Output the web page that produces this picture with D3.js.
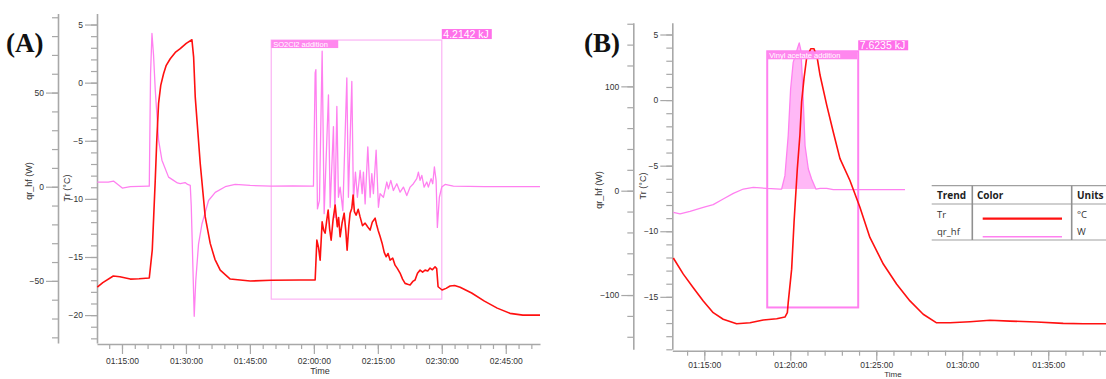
<!DOCTYPE html>
<html>
<head>
<meta charset="utf-8">
<script src="https://cdn.jsdelivr.net/npm/d3@7"></script>
<style>
  html, body { margin: 0; padding: 0; background: #fff; }
  svg { display: block; }
  text { font-family: "Liberation Sans", Arial, sans-serif; }
</style>
</head>
<body>
<svg id="chart" width="1106" height="379"></svg>
<script>
// ---------------- DATA (time in minutes after 00:00) ----------------
// Panel A
const trA = [[69.21,-17.59],[70.5,-17.2],[72.96,-16.64],[74.5,-16.7],[76.95,-16.9],[79,-16.87],[81.4,-16.81],[82.1,-14.4],[82.45,-11.4],[82.8,-8.39],[83.16,-4.96],[83.58,-1.78],[84.09,-0.23],[84.75,0.77],[85.38,1.49],[86.32,2.06],[87.49,2.6],[88.66,2.92],[90.07,3.38],[91.4,3.69],[91.8,2.2],[92.18,-1.24],[93.35,-6.96],[94.52,-11.55],[95.69,-13.83],[96.8,-15.2],[98.04,-16.13],[100.38,-16.9],[105.07,-17.07],[110,-17.0],[116.79,-16.98],[120.3,-16.98],[120.7,-13.55],[121.1,-14.2],[121.47,-15.27],[121.94,-11.98],[122.3,-12.7],[122.64,-12.95],[123.0,-11.9],[123.35,-10.97],[123.7,-12.6],[124.05,-13.55],[124.5,-11.8],[124.99,-10.54],[125.5,-12.4],[125.8,-11.6],[126.16,-13.26],[126.6,-12.1],[127.1,-11.23],[127.5,-12.8],[127.8,-14.41],[128.2,-12.3],[128.5,-11.23],[128.9,-10.8],[129.2,-9.68],[129.5,-11.1],[129.91,-11.4],[130.4,-10.9],[130.84,-11.55],[131.4,-12.3],[132.02,-12.09],[132.6,-12.4],[133.19,-12.69],[133.7,-12.0],[134.36,-11.66],[134.7,-12.2],[135.06,-12.69],[135.5,-13.2],[136.0,-13.81],[136.5,-14.6],[136.94,-14.98],[137.4,-14.7],[137.87,-15.27],[138.5,-15.1],[139.04,-15.7],[139.6,-16.0],[140.21,-16.38],[140.8,-16.9],[141.39,-17.27],[142.0,-17.35],[142.56,-17.41],[143.2,-17.1],[143.73,-16.98],[144.3,-16.4],[144.91,-16.13],[145.5,-16.3],[146.08,-16.13],[146.7,-16.2],[147.25,-15.95],[147.8,-16.1],[148.42,-15.84],[148.8,-16.0],[149.13,-17.56],[150.07,-17.84],[151.0,-17.7],[151.94,-17.5],[153.0,-17.45],[154.3,-17.6],[157,-18.1],[160,-18.8],[163,-19.4],[166,-19.85],[169,-20.0],[173.03,-20.0]];
const qrA = [[69.21,2.4],[71.79,2.4],[73.0,3.0],[75.07,-0.7],[76.95,0],[81.16,0.3],[81.4,0.3],[81.7,60],[82.03,81.4],[82.4,70],[82.8,51.5],[83.58,24.8],[84.37,14.1],[85.92,5.1],[87.0,3.5],[88.0,2.0],[88.66,1.6],[89.8,2.2],[90.4,1.2],[91.01,0.7],[91.24,-10],[91.94,-68.8],[92.3,-50],[92.95,-30.5],[93.75,-19.8],[94.52,-13.6],[95.3,-7.3],[96.87,-3],[99.21,0],[101.55,1.2],[105.07,0.7],[110,0.3],[115,0.5],[119.9,0.3],[120.3,60.4],[120.47,62.2],[120.84,-11.8],[121.31,-7.3],[121.94,72.0],[122.41,-14.3],[123.42,48.8],[123.82,-10.9],[124.59,31.9],[124.92,-16.3],[125.39,42.6],[125.76,-5.6],[126.16,-0.2],[126.79,-12.7],[127.73,57.8],[128.1,-5.6],[128.9,55.9],[129.28,-7.3],[129.75,7.8],[130.21,-5.6],[130.85,8.7],[131.32,-3.7],[131.62,7.8],[132.02,-9.1],[132.65,21.2],[133.19,-5.6],[133.59,7.0],[133.96,-3.7],[134.6,19.4],[135.14,-10.9],[135.53,-3.7],[136.31,-5.6],[137.1,2.5],[137.48,-1.1],[138.04,3.4],[138.65,-2.0],[139.45,1.6],[140.22,-2.9],[141.0,-0.2],[141.79,-4.7],[142.57,-0.2],[143.34,1.6],[144.13,4.3],[144.51,7.8],[144.91,3.4],[145.31,6.0],[145.85,-0.2],[146.48,2.5],[146.85,-0.2],[147.49,4.3],[147.88,1.6],[148.26,10.5],[148.66,3.4],[148.96,-21.6],[149.43,-5.6],[149.99,-0.2],[150.77,1.2],[152.71,0.3],[160,0.0],[173.03,0.0]];
// Panel B
const trB = [[73.2,-12.04],[73.78,-13.27],[74.36,-14.3],[74.94,-15.31],[75.52,-16.21],[76.1,-16.71],[76.88,-17.05],[77.66,-16.98],[78.43,-16.77],[79.21,-16.67],[79.69,-16.54],[79.83,-16.2],[79.88,-15.44],[80.08,-12.89],[80.22,-9.32],[80.41,-5.23],[80.56,-2.68],[80.66,-0.13],[80.8,1.66],[80.95,3.19],[81.19,3.91],[81.38,3.91],[81.57,3.19],[81.73,1.91],[82.12,-0.38],[82.5,-2.43],[82.89,-4.46],[83.47,-6.13],[84.05,-8.17],[84.63,-10.47],[85.41,-12.5],[86.19,-14.04],[86.96,-15.31],[87.73,-16.33],[88.51,-16.98],[89.29,-16.98],[90.45,-16.9],[91.61,-16.79],[92.77,-16.85],[94.33,-16.92],[95.87,-17.02],[97.04,-17.05],[98.36,-17.05]];
const qrB = [[73.2,-20.8],[73.59,-22.3],[74.17,-19.8],[74.94,-16.0],[75.52,-13.4],[76.1,-8.0],[76.69,-2.6],[77.27,1.6],[77.85,3.2],[78.63,2.2],[79.4,1.6],[79.5,1.6],[79.69,14.4],[79.88,52.7],[80.02,97.5],[80.17,123.0],[80.41,135.9],[80.52,141.6],[80.62,134.2],[80.72,100.7],[80.86,43.1],[81.05,20.8],[81.24,11.2],[81.49,1.6],[81.73,2.2],[82.12,2.2],[82.5,1.0],[86.67,1.0]];

// axes / annotations
const panelLabels = ["(A)", "(B)"];
const trDomainA = [-22.4, 5.95], qrDomainA = [-83, 92], timeDomainA = [69.14, 173.03];
const trDomainB = [-19, 5.9],   qrDomainB = [-152, 161], timeDomainB = [73.14, 98.36];
const trMajorA = [-20, -15, -10, -5, 0, 5], qrMajorA = [-50, 0, 50];
const trMajorB = [-15, -10, -5, 0, 5],      qrMajorB = [-100, 0, 100];
const timeMajorA = [75, 90, 105, 120, 135, 150, 165];
const timeMajorB = [75, 80, 85, 90, 95];
const eventA = {label: "SO2Cl2 addition", energy: "4.2142 kJ", t0: 110, t1: 150, qTop: 77.9, qBot: -59.7};
const eventB = {label: "Vinyl acetate addition", energy: "7.6235 kJ", t0: 78.66, t1: 83.95, qTop: 133.6, qBot: -111.9};
const fillB = {t0: 79.5, t1: 81.49, base: 1.6};
const legendRows = [{trend: "Tr", units: "°C"}, {trend: "qr_hf", units: "W"}];

// ---------------- DRAWING ----------------
const RED = "#ff1010", PINK = "#ff80f0", AXIS = "#a8a8a8", TXT = "#333";
const svg = d3.select("#chart");
const fmt = m => { const h = Math.floor(m / 60), mm = Math.round(m % 60); return String(h).padStart(2,"0") + ":" + String(mm).padStart(2,"0") + ":00"; };

function rangeTicks(dom, step) {
  const out = [];
  for (let v = Math.ceil(dom[0] / step) * step; v <= dom[1] + 1e-9; v += step) out.push(+v.toFixed(6));
  return out;
}

function styleAxis(g) {
  g.selectAll(".domain").attr("stroke", AXIS).attr("stroke-width", 1.6);
  g.selectAll(".tick line").attr("stroke", AXIS).attr("stroke-width", 1.2);
  g.selectAll(".tick text").attr("fill", TXT).style("font-size", "8.5px").style("font-family", "'Liberation Sans', Arial, sans-serif");
}

function yAxis(x, scale, major, step) {
  const gMinor = svg.append("g").attr("transform", `translate(${x},0)`)
    .call(d3.axisLeft(scale).tickValues(rangeTicks(scale.domain(), step)).tickSize(6).tickSizeOuter(0).tickFormat(""));
  styleAxis(gMinor);
  const gMajor = svg.append("g").attr("transform", `translate(${x},0)`)
    .call(d3.axisLeft(scale).tickValues(major).tickSize(12).tickSizeOuter(0).tickPadding(2).tickFormat(d3.format("d")));
  styleAxis(gMajor);
  gMajor.select(".domain").remove();
}

function xAxis(y, scale, major, step, pad) {
  const gMinor = svg.append("g").attr("transform", `translate(0,${y})`)
    .call(d3.axisBottom(scale).tickValues(rangeTicks(scale.domain(), step)).tickSize(5).tickSizeOuter(0).tickFormat(""));
  styleAxis(gMinor);
  const gMajor = svg.append("g").attr("transform", `translate(0,${y})`)
    .call(d3.axisBottom(scale).tickValues(major).tickSize(10).tickSizeOuter(0).tickPadding(pad).tickFormat(fmt));
  styleAxis(gMajor);
  gMajor.select(".domain").remove();
}

function vLabel(x, y, txt) {
  svg.append("text").attr("transform", `translate(${x},${y}) rotate(-90)`)
    .attr("text-anchor", "middle").attr("dominant-baseline", "middle")
    .attr("fill", TXT).style("font-size", "9px").text(txt);
}

function drawPanel(cfg) {
  const x = d3.scaleLinear().domain(cfg.timeDomain).range(cfg.xRange);
  const yT = d3.scaleLinear().domain(cfg.trDomain).range(cfg.yRange);
  const yQ = d3.scaleLinear().domain(cfg.qrDomain).range(cfg.yRange);

  yAxis(cfg.outerX, yQ, cfg.qrMajor, cfg.qrStep);
  yAxis(cfg.xRange[0], yT, cfg.trMajor, 1);
  xAxis(cfg.axisY, x, cfg.timeMajor, cfg.timeStep, cfg.tickPad);

  vLabel(cfg.qLabelX, cfg.qLabelY, "qr_hf (W)");
  vLabel(cfg.tLabelX, cfg.tLabelY, "Tr (°C)");
  svg.append("text").attr("x", cfg.timeLabelX).attr("y", cfg.timeLabelY).attr("text-anchor", "middle")
    .attr("fill", TXT).style("font-size", cfg.timeFont).text("Time");

  svg.append("text").attr("x", cfg.panelX).attr("y", cfg.panelY)
    .style("font-family", "'Liberation Serif', 'Times New Roman', serif").style("font-weight", "bold")
    .style("font-size", "27px").attr("fill", "#111").text(cfg.panel);

  if (cfg.fill) {
    const pts = cfg.qr.filter(d => d[0] >= cfg.fill.t0 && d[0] <= cfg.fill.t1);
    svg.append("path").datum(pts)
      .attr("d", d3.area().x(d => x(d[0])).y0(yQ(cfg.fill.base)).y1(d => yQ(d[1])))
      .attr("fill", "#ffb8f6").attr("stroke", "none");
  }

  const ev = cfg.event;
  const bx0 = x(ev.t0), bx1 = x(ev.t1), by0 = yQ(ev.qTop), by1 = yQ(ev.qBot);
  svg.append("rect").attr("x", bx0).attr("y", by0).attr("width", bx1 - bx0).attr("height", by1 - by0)
    .attr("fill", "none").attr("stroke", cfg.boxStroke).attr("stroke-width", cfg.boxWidth);

  const line = (ys) => d3.line().x(d => x(d[0])).y(d => ys(d[1]));
  svg.append("path").datum(cfg.qr).attr("d", line(yQ)).attr("fill", "none")
    .attr("stroke", PINK).attr("stroke-width", 1.3).attr("stroke-linejoin", "round");
  svg.append("path").datum(cfg.tr).attr("d", line(yT)).attr("fill", "none")
    .attr("stroke", RED).attr("stroke-width", 1.6).attr("stroke-linejoin", "round");

  svg.append("rect").attr("x", bx0).attr("y", by0).attr("width", cfg.labelW).attr("height", 8)
    .attr("fill", "#ff88ee");
  svg.append("text").attr("x", bx0 + 2).attr("y", by0 + 7).attr("fill", "#fff")
    .style("font-size", "7.5px").text(ev.label);
  svg.append("rect").attr("x", bx1).attr("y", by0 - 11).attr("width", cfg.energyW).attr("height", 10)
    .attr("fill", "#ff70ea");
  svg.append("text").attr("x", bx1 + 1.5).attr("y", by0 - 2.5).attr("fill", "#fff")
    .style("font-size", "10.5px").text(ev.energy);
}

drawPanel({
  panel: panelLabels[0], panelX: 6, panelY: 52,
  tr: trA, qr: qrA, timeDomain: timeDomainA, trDomain: trDomainA, qrDomain: qrDomainA,
  xRange: [97, 540], yRange: [343, 13.5], outerX: 58, axisY: 344, tickPad: 4,
  qrMajor: qrMajorA, qrStep: 10, trMajor: trMajorA, timeMajor: timeMajorA, timeStep: 3,
  qLabelX: 30, qLabelY: 181, tLabelX: 68, tLabelY: 188, timeLabelX: 320, timeLabelY: 374, timeFont: "9px",
  event: eventA, boxStroke: "#fbb2f4", boxWidth: 1.2, labelW: 67, energyW: 50
});

drawPanel({
  panel: panelLabels[1], panelX: 584, panelY: 52,
  tr: trB, qr: qrB, fill: fillB, timeDomain: timeDomainB, trDomain: trDomainB, qrDomain: qrDomainB,
  xRange: [672.3, 1106], yRange: [349.3, 22.7], outerX: 633.3, axisY: 350.7, tickPad: 1,
  qrMajor: qrMajorB, qrStep: 20, trMajor: trMajorB, timeMajor: timeMajorB, timeStep: 1,
  qLabelX: 600, qLabelY: 190, tLabelX: 644, tLabelY: 186, timeLabelX: 893, timeLabelY: 376.8, timeFont: "8px",
  event: eventB, boxStroke: "#ff80f0", boxWidth: 2, labelW: 90, energyW: 50
});

// legend table
const lg = svg.append("g");
const tL = 931.7, tR = 1106, tTop = 185.7, tHdr = 204, tBot = 240, tC1 = 972.3, tC2 = 1071.7;
[tTop, tHdr, tBot].forEach(y => lg.append("line").attr("x1", tL).attr("x2", tR).attr("y1", y).attr("y2", y)
  .attr("stroke", "#a0a0a0").attr("stroke-width", 1.2));
[tC1, tC2].forEach(x => lg.append("line").attr("x1", x).attr("x2", x).attr("y1", tTop).attr("y2", tBot)
  .attr("stroke", "#909090").attr("stroke-width", 1.6));
const hf = "'Open Sans', 'Noto Sans', sans-serif";
[["Trend", 937], ["Color", 977], ["Units", 1077]].forEach(([t, x]) =>
  lg.append("text").attr("x", x).attr("y", 199).style("font-family", hf).style("font-weight", "bold")
    .style("font-size", "10px").attr("fill", "#222").text(t));
const rowY = [217.5, 234.5], rowLineY = [218.7, 236.7], rowColor = [RED, PINK], rowW = [2.2, 1.6];
legendRows.forEach((r, i) => {
  lg.append("text").attr("x", 937).attr("y", rowY[i]).style("font-family", hf).style("font-size", "9.5px")
    .attr("fill", "#333").text(r.trend);
  lg.append("line").attr("x1", 982.7).attr("x2", 1062).attr("y1", rowLineY[i]).attr("y2", rowLineY[i])
    .attr("stroke", rowColor[i]).attr("stroke-width", rowW[i]);
  lg.append("text").attr("x", 1077).attr("y", rowY[i]).style("font-family", hf).style("font-size", "9.5px")
    .attr("fill", "#333").text(r.units);
});
</script>
</body>
</html>
